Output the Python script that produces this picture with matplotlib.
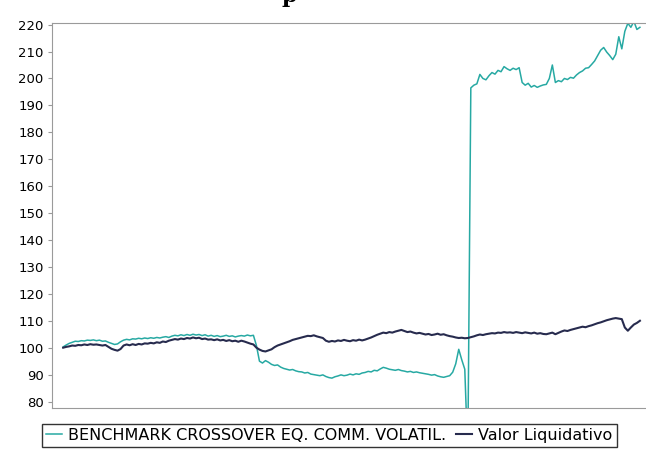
import matplotlib.pyplot as plt

# Index values (both series start at 100)
benchmark = [
    100.3, 101.0, 101.6, 102.0, 102.4, 102.3, 102.6, 102.5, 102.8, 102.7,
    102.9, 102.6, 102.8, 102.4, 102.5, 102.0, 101.6, 101.2, 101.4, 102.2,
    102.8, 103.1, 102.9, 103.3, 103.2, 103.5, 103.3, 103.6, 103.4, 103.7,
    103.5, 103.8, 103.6, 103.9, 104.1, 103.8, 104.3, 104.6, 104.4, 104.8,
    104.5, 104.9, 104.6, 105.0, 104.7, 104.9, 104.5, 104.8, 104.3, 104.6,
    104.2, 104.5, 104.1, 104.3, 104.6, 104.2, 104.4, 104.0, 104.3, 104.5,
    104.3, 104.7, 104.4, 104.6, 100.8, 95.0, 94.3, 95.2, 94.6, 93.8,
    93.4, 93.6, 92.8, 92.3, 92.0, 91.7, 91.9, 91.4, 91.1, 91.0,
    90.6, 90.8, 90.2, 90.0, 89.8, 89.6, 89.9, 89.3, 88.9, 88.7,
    89.2, 89.5, 89.9, 89.6, 89.8, 90.2, 89.9, 90.3, 90.1, 90.6,
    90.8, 91.2, 91.0, 91.6, 91.4, 92.1, 92.7, 92.4, 92.0, 91.8,
    91.6, 91.9, 91.5, 91.3, 91.0, 91.2, 90.8, 91.0, 90.7, 90.5,
    90.3, 90.1, 89.8, 90.0, 89.5, 89.2, 89.0, 89.3, 89.6, 90.9,
    94.0, 99.4, 95.5, 92.0, 60.0, 196.5, 197.5, 198.0, 201.5, 200.0,
    199.5, 201.0, 202.2, 201.6, 203.0, 202.5, 204.4, 203.6, 203.0, 203.8,
    203.3, 204.0, 198.5, 197.5, 198.2, 196.8, 197.4, 196.7, 197.2, 197.6,
    197.8, 200.0, 205.0, 198.5, 199.2, 198.8, 200.0, 199.6, 200.4, 200.1,
    201.3, 202.2, 202.8, 203.8, 204.0, 205.2, 206.5, 208.5, 210.5, 211.5,
    209.8, 208.5, 207.0, 209.0, 215.5, 211.0, 217.5, 220.5, 219.0, 221.2,
    218.2, 219.0,
]

valor_liquidativo = [
    100.0, 100.3, 100.5, 100.8, 100.7, 101.0, 100.9, 101.2, 101.0, 101.3,
    101.1, 101.2, 101.0, 100.8, 101.0, 100.3, 99.6, 99.2, 98.9, 99.5,
    100.8, 101.2, 100.9, 101.3, 101.0, 101.4, 101.2, 101.6, 101.5, 101.8,
    101.6, 102.0, 101.8, 102.3, 102.1, 102.6, 102.9, 103.2, 103.0, 103.4,
    103.2, 103.6, 103.4, 103.8, 103.5, 103.7, 103.2, 103.4, 103.0, 103.1,
    102.8, 103.1, 102.7, 102.9, 102.5, 102.8, 102.4, 102.6, 102.2, 102.6,
    102.3, 101.9, 101.5, 101.2, 100.0, 99.3, 98.8, 98.6, 99.0, 99.4,
    100.2, 100.8, 101.2, 101.6, 102.0, 102.4, 102.9, 103.2, 103.5, 103.8,
    104.1, 104.4, 104.3, 104.6, 104.2, 103.9, 103.6, 102.6, 102.2, 102.5,
    102.3, 102.7, 102.5, 102.9, 102.6, 102.4, 102.8, 102.6, 103.0, 102.7,
    103.0, 103.4, 103.8, 104.3, 104.8, 105.2, 105.6, 105.4, 105.8, 105.6,
    106.0, 106.3, 106.6, 106.2, 105.8, 106.0, 105.6, 105.3, 105.5, 105.2,
    104.9, 105.1, 104.7, 104.9, 105.2, 104.8, 105.0, 104.6, 104.3, 104.1,
    103.8, 103.6, 103.7, 103.5, 103.6, 103.9, 104.2, 104.6, 104.9, 104.7,
    105.0, 105.2, 105.4, 105.3, 105.6, 105.5, 105.8, 105.6, 105.7, 105.5,
    105.8, 105.6, 105.4, 105.7, 105.5, 105.3, 105.6, 105.2, 105.4, 105.1,
    105.0, 105.3, 105.6, 105.0, 105.5, 106.0, 106.4, 106.2, 106.6, 106.9,
    107.2, 107.5, 107.8, 107.6, 108.0, 108.3, 108.7, 109.1, 109.4, 109.8,
    110.2, 110.5, 110.8, 111.0, 110.8, 110.6, 107.5, 106.3, 107.5, 108.6,
    109.2, 110.0,
]

labels = ["BENCHMARK CROSSOVER EQ. COMM. VOLATIL.", "Valor Liquidativo"]
yticks = list(range(80, 221, 10))

teal = "#27a9a3"
navy = "#272b4e"

fig = plt.figure(figsize=(6.46, 4.5), dpi=100)
ax = fig.add_axes([52 / 646, 42 / 450, 600 / 646, 385 / 450])

days = range(len(benchmark))
ax.plot(days, benchmark, color=teal, lw=1.1, label=labels[0])
ax.plot(days, valor_liquidativo, color=navy, lw=1.5, label=labels[1])

ax.set_xlim(-3.7, 195)
ax.set_ylim(77.6, 220.6)
ax.set_yticks(yticks)
ax.set_xticks([])
ax.tick_params(axis="y", length=3, color="#999999", labelsize=9.5, pad=3)
for s in ax.spines.values():
    s.set_color("#9a9a9a")

# cut-off title at the top edge
fig.text(0.447, 0.995, "p", fontsize=16, fontweight="bold", family="serif",
         va="baseline", ha="center")

leg = fig.legend(loc="upper left", bbox_to_anchor=(42 / 646, 1 - 424 / 450),
                 ncol=2, frameon=True, fancybox=False, fontsize=11.5,
                 handlelength=1.0, handletextpad=0.4, columnspacing=0.6,
                 borderpad=0.25, borderaxespad=0)
leg.get_frame().set_edgecolor("black")
leg.get_frame().set_linewidth(1.0)

fig.savefig("out.png", dpi=100)
